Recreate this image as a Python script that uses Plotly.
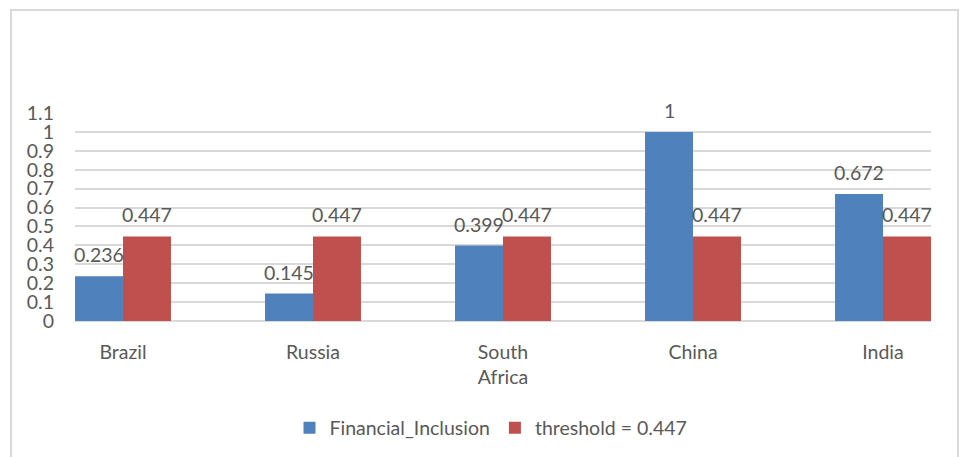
import plotly.graph_objects as go

categories = ["Brazil", "Russia", "South<br>Africa", "China", "India"]
financial_inclusion = [0.236, 0.145, 0.399, 1.0, 0.672]
threshold = [0.447, 0.447, 0.447, 0.447, 0.447]
y_ticks = [0, 0.1, 0.2, 0.3, 0.4, 0.5, 0.6, 0.7, 0.8, 0.9, 1.0, 1.1]
y_tick_labels = ["0", "0.1", "0.2", "0.3", "0.4", "0.5", "0.6", "0.7", "0.8", "0.9", "1", "1.1"]

BLUE = "#4F81BD"
RED = "#C0504D"
TXT = "#595959"
FONT = "Lato"
FS = 19.5

def fmt(v):
    s = ("%.3f" % v).rstrip("0").rstrip(".")
    return s

fig = go.Figure()
fig.add_trace(go.Bar(name="Financial_Inclusion", x=categories, y=financial_inclusion,
                     marker=dict(color=BLUE, line=dict(width=0))))
fig.add_trace(go.Bar(name="threshold = 0.447", x=categories, y=threshold,
                     marker=dict(color=RED, line=dict(width=0))))

annotations = []
for cat, v in zip(categories, financial_inclusion):
    annotations.append(dict(x=cat, y=v, text=fmt(v), xshift=-24, yshift=8, yanchor="bottom",
                            showarrow=False, font=dict(family=FONT, size=FS, color=TXT)))
for cat, v in zip(categories, threshold):
    annotations.append(dict(x=cat, y=v, text=fmt(v), xshift=24, yshift=8, yanchor="bottom",
                            showarrow=False, font=dict(family=FONT, size=FS, color=TXT)))

L, R, T, B = 75, 931, 113, 321
W, H = 962, 457
pw, ph = R - L, B - T

def px(x):
    return (x - L) / pw

def py(y):
    return (B - y) / ph

fig.update_layout(
    width=W, height=H,
    margin=dict(l=L, r=W - R, t=T, b=H - B, pad=0, autoexpand=False),
    paper_bgcolor="white", plot_bgcolor="white",
    barmode="group", bargap=0.495, bargroupgap=0,
    font=dict(family=FONT, size=FS, color=TXT),
    showlegend=True,
    legend=dict(orientation="h", x=px(491), y=py(428), xanchor="center", yanchor="middle",
                font=dict(family=FONT, size=FS, color=TXT), itemwidth=30, tracegroupgap=0,
                bgcolor="rgba(0,0,0,0)"),
    annotations=annotations,
    shapes=[dict(type="rect", xref="paper", yref="paper",
                 x0=px(11), x1=px(958), y0=py(480), y1=py(10),
                 line=dict(color="#d9d9d9", width=2), fillcolor="rgba(0,0,0,0)", layer="below")],
)
fig.update_xaxes(type="category", range=[-0.2526, 4.2526], showgrid=False, zeroline=False,
                 showline=False, ticks="", ticklabelstandoff=17,
                 tickfont=dict(family=FONT, size=FS, color=TXT), fixedrange=True)
fig.update_yaxes(range=[0, 1.1], tickvals=y_ticks, ticktext=y_tick_labels, showgrid=True,
                 gridcolor="#d9d9d9", gridwidth=1.5, zeroline=True, zerolinecolor="#d9d9d9",
                 zerolinewidth=1.5, showline=False, ticks="", ticklabelstandoff=20,
                 tickfont=dict(family=FONT, size=FS, color=TXT), fixedrange=True)

fig.write_html("out.html")
